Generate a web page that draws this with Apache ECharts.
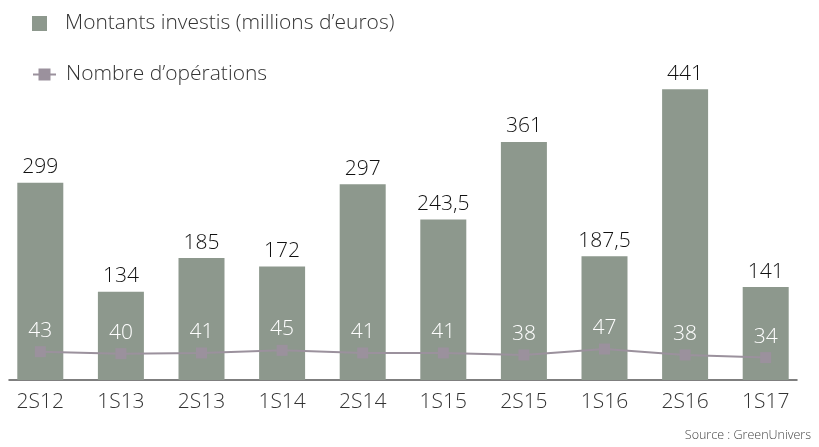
<!DOCTYPE html>
<html>
<head>
<meta charset="utf-8">
<script src="https://cdn.jsdelivr.net/npm/echarts@6/dist/echarts.min.js"></script>
<style>html,body{margin:0;padding:0;background:#fff}#c{width:819px;height:447px}</style>
</head>
<body>
<div id="c"></div>
<script>
const categories = ['2S12','1S13','2S13','1S14','2S14','1S15','2S15','1S16','2S16','1S17'];
const montants = [299, 134, 185, 172, 297, 243.5, 361, 187.5, 441, 141];
const operations = [43, 40, 41, 45, 41, 41, 38, 47, 38, 34];
const barName = 'Montants investis (millions d\u2019euros)';
const lineName = 'Nombre d\u2019op\u00e9rations';
const sourceText = 'Source : GreenUnivers';

const font = '"Open Sans", sans-serif';
const W = 300;
const FS = 21;
const chart = echarts.init(document.getElementById('c'));
const fmt = v => String(v).replace('.', ',');

chart.setOption({
  animation: false,
  backgroundColor: '#fff',
  textStyle: { fontFamily: font },
  title: {
    text: sourceText, right: 3, bottom: 0,
    textStyle: { fontSize: 12.5, fontWeight: W, color: '#444', fontFamily: font }
  },
  legend: [{
    data: [barName], left: 32, top: 13, padding: 0, itemWidth: 15, itemHeight: 15, icon: 'rect',
    textStyle: { fontSize: FS, fontWeight: W, color: '#333', fontFamily: font, padding: [0, 0, 0, 13] }
  }, {
    data: [lineName], left: 32, top: 64, padding: 0, itemWidth: 23, itemHeight: 15,
    textStyle: { fontSize: FS, fontWeight: W, color: '#333', fontFamily: font, padding: [0, 0, 0, 5] }
  }],
  grid: [
    { left: 0, right: 13, top: 80, bottom: 67 },
    { left: 9, right: 22, top: 80, bottom: 67 }
  ],
  xAxis: [{
    type: 'category', data: categories, gridIndex: 0,
    axisLine: { show: false }, axisTick: { show: false },
    axisLabel: { fontSize: FS, fontWeight: W, color: '#333', margin: 12, fontFamily: font }
  }, {
    type: 'value', gridIndex: 1, min: 0, max: 1,
    axisLine: { show: true, lineStyle: { color: '#555', width: 1.5 } },
    axisTick: { show: false }, axisLabel: { show: false }, splitLine: { show: false }
  }],
  yAxis: [{
    type: 'value', gridIndex: 0, min: 0, max: 455, show: false, splitLine: { show: false }
  }, {
    type: 'value', gridIndex: 1, min: 0, max: 1, show: false, splitLine: { show: false }
  }],
  series: [{
    name: barName, type: 'bar', data: montants, barWidth: 46,
    itemStyle: { color: '#8d988d' },
    label: { show: true, position: 'top', distance: 5, fontSize: FS, fontWeight: W, color: '#111', fontFamily: font,
      formatter: p => fmt(p.value) }
  }, {
    name: lineName, type: 'line', data: operations,
    symbol: 'rect', symbolSize: 11,
    lineStyle: { color: '#9b919d', width: 2 },
    itemStyle: { color: '#9b919d' },
    label: { show: true, position: 'top', distance: 5, fontSize: FS, fontWeight: W, color: '#fff', fontFamily: font }
  }]
});
</script>
</body>
</html>
